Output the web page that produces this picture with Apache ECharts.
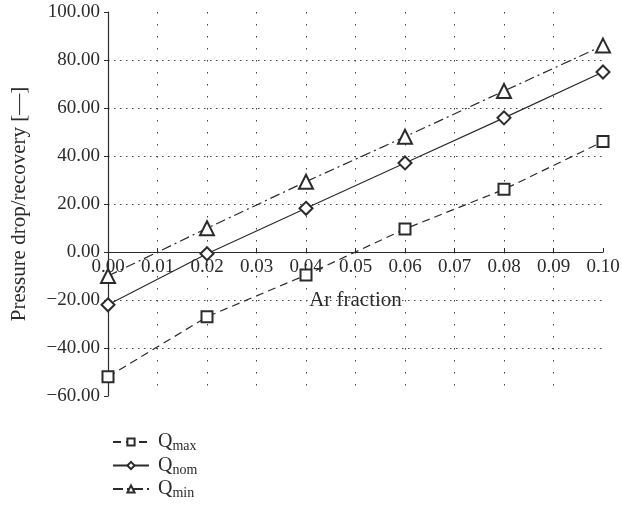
<!DOCTYPE html>
<html>
<head>
<meta charset="utf-8">
<script src="https://cdn.jsdelivr.net/npm/echarts@6/dist/echarts.min.js"></script>
<style>html,body{margin:0;padding:0;background:#fff}#c{width:622px;height:513px}</style>
</head>
<body>
<div id="c"></div>
<script>
var xValues = [0.00, 0.02, 0.04, 0.06, 0.08, 0.10];
var qMax = [-52, -27, -9.6, 9.6, 26.1, 46];
var qNom = [-22, -0.7, 18.2, 37.1, 55.9, 75];
var qMin = [-10, 9.9, 29.3, 48, 67.1, 86];
var seriesNames = ['Qmax', 'Qnom', 'Qmin'];
var yTicks = [-60, -40, -20, 0, 20, 40, 60, 80, 100];

function pairs(arr){ return xValues.map(function(x,i){ return [x, arr[i]]; }); }
function fmtY(v){ return v < 0 ? '\u2212' + Math.abs(v).toFixed(2) : v.toFixed(2); }

var font = 'Liberation Serif';
var ink = '#2b2b2b';
var chart = echarts.init(document.getElementById('c'));
var lineStyles = [
  {type: [8, 5]},
  {type: 'solid'},
  {type: [10, 4, 2, 4]}
];
var symbols = ['emptyRect', 'emptyDiamond', 'emptyTriangle'];
var symbolSizes = [11, 13, 14];
var dataSets = [qMax, qNom, qMin];

var gridTop = 12, gridBottomPx = 396;
var yMin = yTicks[0], yMax = yTicks[yTicks.length - 1];
// shift the x axis up so it sits on y = 0
var xOffset = -(gridBottomPx - gridTop) * (0 - yMin) / (yMax - yMin);

chart.setOption({
  animation: false,
  backgroundColor: '#fff',
  grid: {left: 108, right: 19, top: gridTop, bottom: 513 - gridBottomPx,
    containLabel: false, outerBoundsMode: 'none'},
  legend: {
    orient: 'vertical',
    left: 107,
    top: 427,
    itemWidth: 36,
    itemHeight: 9,
    itemGap: 2,
    data: seriesNames,
    formatter: function(n){ return '{q|Q}{s|' + n.slice(1) + '}'; },
    textStyle: {
      fontFamily: font, color: ink, padding: [0, 0, 0, 4],
      rich: {
        q: {fontFamily: font, fontSize: 20, color: ink, height: 19},
        s: {fontFamily: font, fontSize: 14, color: ink, verticalAlign: 'bottom', padding: [9, 0, 0, 0]}
      }
    }
  },
  xAxis: {
    type: 'value', min: 0, max: 0.1, interval: 0.01,
    position: 'bottom', offset: xOffset,
    name: 'Ar fraction', nameLocation: 'middle', nameGap: 38,
    nameTextStyle: {fontFamily: font, fontSize: 21, color: ink},
    axisLine: {onZero: false, lineStyle: {color: ink, width: 1.2}},
    axisTick: {show: true, inside: true, length: 4, lineStyle: {color: ink}},
    axisLabel: {fontFamily: font, fontSize: 19, color: ink, margin: 6,
      formatter: function(v){ return v.toFixed(2); }},
    splitLine: {show: true, showMinLine: false, showMaxLine: false,
      lineStyle: {color: '#444', type: [1.5, 10.5], width: 1}}
  },
  yAxis: {
    type: 'value', min: yMin, max: yMax, interval: 20,
    name: 'Pressure drop/recovery [\u2014]', nameLocation: 'middle', nameGap: 78,
    nameTextStyle: {fontFamily: font, fontSize: 21, color: ink},
    axisLine: {show: true, onZero: false, lineStyle: {color: ink, width: 1.2}},
    axisTick: {show: true, inside: false, length: 4, lineStyle: {color: ink}},
    axisLabel: {fontFamily: font, fontSize: 19, color: ink, margin: 8, formatter: fmtY},
    splitLine: {show: true, showMinLine: false, showMaxLine: false,
      lineStyle: {color: '#444', type: [1.5, 4.5], width: 1}}
  },
  series: seriesNames.map(function(n, i){
    return {
      name: n, type: 'line', data: pairs(dataSets[i]),
      symbol: symbols[i], symbolSize: symbolSizes[i],
      itemStyle: {color: ink, borderColor: ink, borderWidth: 1.2},
      lineStyle: Object.assign({color: ink, width: 1.2}, lineStyles[i]),
      z: 3
    };
  })
});
</script>
</body>
</html>
